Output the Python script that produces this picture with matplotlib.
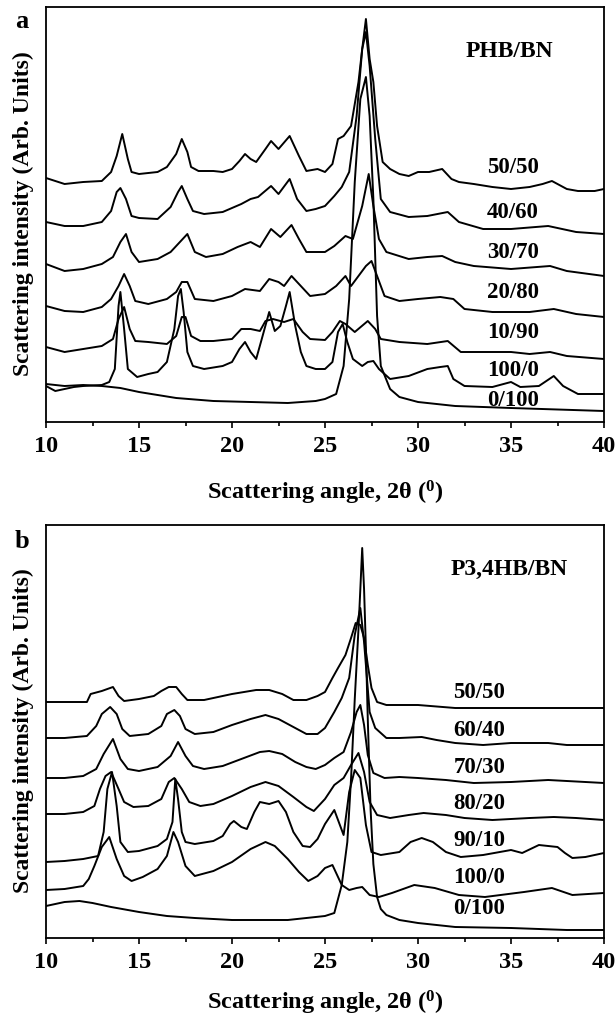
import matplotlib
matplotlib.use('Agg')
import matplotlib.pyplot as plt
from matplotlib.ticker import MultipleLocator

plt.rcParams['font.family'] = ['Liberation Serif', 'DejaVu Serif']
plt.rcParams['font.weight'] = 'bold'
plt.rcParams['mathtext.fontset'] = 'custom'
plt.rcParams['mathtext.rm'] = 'Liberation Serif:bold'
plt.rcParams['mathtext.it'] = 'Liberation Serif:bold'
plt.rcParams['mathtext.bf'] = 'Liberation Serif:bold'

# ---- panel a : PHB/BN, offset patterns (2theta, intensity arb. units) ----
a_50_50 = [(10, 244), (11, 238), (12, 240), (13, 241), (13.5, 250), (13.8, 266), (14.1, 288), (14.4, 263),
           (14.6, 250), (15, 248), (16, 250), (16.5, 255), (17, 268), (17.3, 283), (17.6, 270), (17.8, 255),
           (18.2, 251), (19, 251), (19.5, 250), (20, 253), (20.4, 261), (20.7, 268), (21, 263), (21.3, 260),
           (21.8, 273), (22.1, 281), (22.5, 273), (23.1, 286), (23.6, 266), (24, 251), (24.6, 253), (25, 250),
           (25.4, 258), (25.7, 283), (26, 286), (26.4, 296), (26.8, 340), (27, 373), (27.2, 403), (27.4, 363),
           (27.6, 340), (27.8, 296), (28.1, 260), (28.5, 253), (29, 248), (29.5, 246), (30, 250), (30.6, 250),
           (31.3, 253), (31.8, 243), (32.2, 240), (33, 238), (34, 235), (35, 233), (36, 235), (36.7, 238),
           (37.2, 241), (38, 233), (38.6, 231), (39.5, 231), (40, 233)]
a_40_60 = [(10, 200), (11, 196), (12, 196), (13, 200), (13.5, 211), (13.8, 230), (14.0, 234), (14.3, 223),
           (14.6, 206), (15, 204), (16, 203), (16.7, 215), (17.1, 230), (17.3, 236), (17.6, 223), (17.9, 211),
           (18.5, 208), (19.5, 210), (20.5, 218), (21, 223), (21.4, 225), (22.1, 236), (22.5, 228), (23.1, 243),
           (23.5, 223), (24, 211), (24.5, 213), (25, 216), (25.5, 226), (25.9, 235), (26.3, 250), (26.7, 306),
           (27.0, 373), (27.2, 390), (27.4, 356), (27.7, 283), (28.0, 223), (28.5, 210), (29.5, 205),
           (30.5, 206), (31.6, 210), (32.2, 200), (33.5, 193), (35, 193), (37, 196), (38.5, 190), (40, 188)]
a_30_70 = [(10, 158), (11, 151), (12, 153), (13, 158), (13.6, 165), (14.0, 180), (14.3, 188), (14.6, 170),
           (15, 160), (16, 163), (16.7, 170), (17.2, 180), (17.6, 188), (18.0, 170), (18.6, 165), (19.5, 168),
           (20.3, 175), (21, 180), (21.5, 175), (22.1, 193), (22.6, 185), (23.2, 197), (23.6, 183), (24, 170),
           (25, 170), (25.5, 176), (26.1, 186), (26.5, 183), (27.0, 216), (27.35, 248), (27.6, 216),
           (27.9, 183), (28.3, 170), (29.5, 163), (30.5, 165), (31.3, 166), (32, 160), (33, 156), (35, 153),
           (37.1, 156), (38, 151), (40, 146)]
a_20_80 = [(10, 116), (11, 111), (12, 110), (13, 115), (13.5, 123), (13.9, 136), (14.2, 148), (14.5, 136),
           (14.8, 121), (15.5, 118), (16.5, 123), (17.0, 130), (17.3, 140), (17.6, 140), (18.0, 123), (19, 121),
           (20, 126), (20.7, 133), (21.5, 131), (22, 143), (22.5, 140), (22.8, 136), (23.2, 146), (23.7, 136),
           (24.2, 126), (25, 128), (25.6, 136), (26.1, 146), (26.4, 136), (26.8, 146), (27.2, 156), (27.5, 161),
           (27.8, 146), (28.2, 126), (29, 121), (30, 123), (31.2, 125), (31.9, 123), (32.5, 113), (34, 110),
           (36, 110), (37.3, 113), (38.5, 108), (40, 105)]
a_10_90 = [(10, 75), (11, 70), (12, 73), (13, 76), (13.6, 83), (13.9, 103), (14.2, 115), (14.5, 93),
           (14.8, 81), (15.5, 80), (16.5, 78), (17.0, 86), (17.3, 105), (17.5, 105), (17.8, 86), (18.3, 81),
           (19, 81), (20, 83), (20.5, 93), (21, 93), (21.5, 91), (21.8, 101), (22.2, 103), (22.8, 100),
           (23.3, 103), (23.8, 90), (24.2, 83), (25, 82), (25.4, 90), (25.8, 101), (26.1, 98), (26.6, 90),
           (27.3, 101), (27.7, 93), (28, 83), (29, 80), (30.5, 78), (31.6, 81), (32.3, 70), (33.5, 70),
           (35, 70), (36, 68), (37.1, 70), (38, 66), (40, 63)]
a_100_0 = [(10, 36), (10.5, 31), (11.5, 35), (12, 36), (13, 37), (13.4, 40), (13.7, 53), (13.9, 116),
           (14.0, 130), (14.2, 93), (14.4, 53), (14.9, 45), (15.5, 48), (16, 50), (16.5, 60), (16.9, 93),
           (17.1, 126), (17.25, 133), (17.4, 110), (17.6, 70), (17.9, 56), (18.5, 53), (19.5, 56), (20, 60),
           (20.4, 73), (20.7, 80), (21.0, 70), (21.3, 63), (21.6, 83), (22.0, 110), (22.3, 91), (22.6, 96),
           (22.9, 116), (23.1, 130), (23.4, 96), (23.7, 70), (24, 56), (24.5, 53), (25, 53), (25.4, 60),
           (25.7, 90), (25.95, 98), (26.2, 80), (26.5, 63), (27.0, 56), (27.3, 60), (27.6, 61), (27.9, 53),
           (28.5, 43), (29.5, 46), (30.5, 53), (31.2, 55), (31.6, 56), (31.9, 43), (32.5, 36), (34, 35),
           (35, 40), (35.5, 35), (36.5, 36), (37.3, 46), (37.8, 36), (38.6, 28), (40, 28)]
a_0_100 = [(10, 38), (11, 36), (12, 37), (13, 36), (14, 34), (15, 30), (17, 24), (19, 21), (21, 20), (23, 19),
           (24.5, 21), (25, 23), (25.6, 28), (26.0, 56), (26.3, 123), (26.6, 240), (26.9, 323), (27.2, 345),
           (27.4, 306), (27.6, 223), (27.8, 106), (28.0, 56), (28.5, 33), (29, 25), (30, 20), (32, 16),
           (35, 14), (40, 11)]

a_curves = [a_50_50, a_40_60, a_30_70, a_20_80, a_10_90, a_100_0, a_0_100]
a_labels = ['50/50', '40/60', '30/70', '20/80', '10/90', '100/0', '0/100']
a_label_y = [256, 211, 171, 130, 91, 53, 23]

# ---- panel b : P3,4HB/BN ----
b_50_50 = [(10, 236), (12.2, 236), (12.4, 244), (13, 247), (13.6, 251), (13.9, 242), (14.2, 237), (15, 239),
           (15.8, 242), (16.2, 247), (16.6, 251), (17.0, 251), (17.3, 244), (17.6, 238), (18.5, 238),
           (20, 244), (21.3, 248), (22, 248), (22.7, 244), (23.3, 238), (24, 238), (24.6, 242), (25, 246),
           (25.4, 260), (25.7, 270), (26.1, 283), (26.4, 300), (26.65, 315), (26.9, 313), (27.1, 300),
           (27.3, 273), (27.5, 250), (27.8, 236), (28.3, 233), (30, 233), (32, 230), (35, 230), (40, 230)]
b_60_40 = [(10, 200), (11, 200), (12.2, 202), (12.7, 212), (13.0, 224), (13.45, 231), (13.8, 224), (14.1, 209),
           (14.5, 202), (15.5, 204), (16.2, 212), (16.5, 224), (16.9, 228), (17.2, 222), (17.5, 209),
           (18, 204), (19, 206), (20, 213), (21, 219), (21.8, 223), (22.5, 219), (23.2, 212), (24, 204),
           (24.6, 204), (25, 210), (25.5, 226), (25.9, 240), (26.3, 260), (26.6, 303), (26.9, 330), (27.1, 296),
           (27.4, 226), (27.7, 210), (28.3, 200), (29, 200), (30.2, 201), (31, 198), (32, 195), (33.5, 193),
           (35, 195), (37, 195), (38, 193), (40, 193)]
b_70_30 = [(10, 160), (11, 160), (12, 162), (12.7, 169), (13.1, 184), (13.6, 199), (14.0, 179), (14.4, 169),
           (15, 167), (16, 171), (16.7, 182), (17.1, 196), (17.5, 182), (17.9, 172), (18.5, 169), (19.5, 172),
           (20.5, 179), (21.5, 186), (22, 187), (22.7, 184), (23.4, 176), (24, 171), (24.5, 169), (25, 173),
           (25.5, 180), (26.0, 186), (26.4, 206), (26.7, 226), (26.9, 233), (27.1, 213), (27.3, 183),
           (27.6, 165), (28.2, 160), (29, 161), (30, 160), (31.5, 158), (33, 155), (35, 156), (37, 158),
           (40, 155)]
b_80_20 = [(10, 124), (11, 124), (12, 126), (12.6, 132), (12.9, 149), (13.2, 162), (13.5, 166), (13.9, 149),
           (14.2, 136), (14.7, 131), (15.5, 132), (16.2, 139), (16.6, 156), (16.9, 160), (17.3, 149),
           (17.7, 136), (18.3, 132), (19, 134), (20, 142), (21, 151), (21.8, 156), (22.5, 152), (23.3, 141),
           (24.0, 131), (24.4, 127), (25, 139), (25.5, 153), (26.0, 160), (26.4, 173), (26.8, 185),
           (27.1, 166), (27.4, 136), (27.8, 123), (28.5, 120), (29.5, 123), (30.3, 125), (31.5, 123),
           (32.5, 120), (34, 118), (36, 120), (37.3, 121), (38.5, 120), (40, 118)]
b_90_10 = [(10, 76), (11, 77), (12, 79), (12.8, 82), (13.1, 106), (13.3, 149), (13.55, 166), (13.8, 132),
           (14.0, 96), (14.4, 86), (15, 87), (16, 92), (16.5, 99), (16.8, 116), (16.95, 159), (17.1, 139),
           (17.3, 106), (17.5, 96), (18, 94), (19, 97), (19.5, 102), (19.9, 114), (20.1, 117), (20.5, 111),
           (20.8, 109), (21.2, 126), (21.5, 136), (22.0, 134), (22.5, 137), (22.9, 126), (23.3, 106),
           (23.8, 92), (24.2, 91), (24.6, 99), (25, 114), (25.5, 128), (25.8, 113), (26.0, 103), (26.3, 146),
           (26.6, 168), (26.9, 160), (27.2, 113), (27.5, 86), (28, 83), (29, 86), (29.6, 96), (30.2, 100),
           (30.8, 96), (31.5, 86), (32.3, 81), (33.5, 83), (35, 88), (35.6, 85), (36.5, 93), (37.5, 91),
           (37.9, 85), (38.3, 80), (39, 81), (40, 85)]
b_100_0 = [(10, 48), (11, 49), (12, 52), (12.3, 59), (12.6, 72), (13.0, 91), (13.4, 101), (13.8, 79),
           (14.2, 62), (14.6, 57), (15.2, 61), (16, 69), (16.5, 82), (16.85, 106), (17.1, 96), (17.5, 72),
           (18, 62), (19, 67), (20, 76), (21, 89), (21.8, 96), (22.3, 92), (23.0, 79), (23.6, 66), (24.1, 57),
           (24.6, 62), (25, 70), (25.4, 73), (25.9, 53), (26.3, 48), (26.7, 50), (27.0, 51), (27.4, 43),
           (27.9, 41), (28.6, 45), (29.8, 53), (30.9, 50), (32.2, 43), (33.6, 41), (35.7, 46), (37.2, 50),
           (38.3, 43), (40, 45)]
b_0_100 = [(10, 32), (11, 36), (11.8, 37), (12.5, 35), (13.5, 31), (15, 26), (16.5, 22), (18, 20), (20, 18),
           (21.5, 18), (23, 18), (24.5, 21), (25, 22), (25.5, 25), (25.9, 53), (26.2, 96), (26.4, 159),
           (26.6, 239), (26.8, 309), (26.9, 349), (27.0, 390), (27.1, 349), (27.2, 289), (27.3, 219),
           (27.45, 129), (27.6, 74), (27.8, 41), (28.0, 29), (28.3, 23), (29, 18), (30, 15), (32, 11),
           (35, 10), (38, 8), (40, 8)]

b_curves = [b_50_50, b_60_40, b_70_30, b_80_20, b_90_10, b_100_0, b_0_100]
b_labels = ['50/50', '60/40', '70/30', '80/20', '90/10', '100/0', '0/100']
b_label_y = [246, 208, 171, 135, 98, 61, 30]

W, H = 616, 1020
fig = plt.figure(figsize=(W / 100, H / 100), dpi=100)
ax_a = fig.add_axes([46 / W, 1 - 423 / H, 558 / W, 415 / H])
ax_b = fig.add_axes([46 / W, 1 - 939 / H, 558 / W, 413 / H])


def draw_panel(ax, curves, labels, label_y, label_x, title, ymax):
    for c in curves:
        xs = [p[0] for p in c]
        ys = [p[1] for p in c]
        ax.plot(xs, ys, color='black', lw=1.4, solid_joinstyle='round')
    for lab, ly in zip(labels, label_y):
        ax.text(label_x, ly, lab, fontsize=16.5, fontweight='bold', ha='center', va='center')
    ax.text(34.9, ymax - 43, title, fontsize=17, fontweight='bold', ha='center', va='center')
    ax.set_xlim(10, 40)
    ax.set_ylim(0, ymax)
    ax.set_yticks([])
    ax.xaxis.set_major_locator(MultipleLocator(5))
    ax.xaxis.set_minor_locator(MultipleLocator(2.5))
    ax.tick_params(axis='x', which='major', direction='out', length=4.5, width=1.2,
                   labelsize=17.5, pad=5, top=False)
    ax.tick_params(axis='x', which='minor', direction='out', length=3, width=1.2, top=False)
    for s in ax.spines.values():
        s.set_linewidth(1.3)
    for t in ax.get_xticklabels():
        t.set_fontweight('bold')


draw_panel(ax_a, a_curves, a_labels, a_label_y, 35.1, 'PHB/BN', 415)
draw_panel(ax_b, b_curves, b_labels, b_label_y, 33.3, 'P3,4HB/BN', 413)

xl = 'Scattering angle, 2\u03b8 ($^{0}$)'
yl = 'Scattering intensity (Arb. Units)'
fig.text(325 / W, 1 - 493 / H, xl, fontsize=17.5, fontweight='bold', ha='center', va='center')
fig.text(325 / W, 1 - 1003 / H, xl, fontsize=17.5, fontweight='bold', ha='center', va='center')
fig.text(23 / W, 1 - 214 / H, yl, fontsize=17, fontweight='bold', rotation=90, ha='center', va='center')
fig.text(23 / W, 1 - 731 / H, yl, fontsize=17, fontweight='bold', rotation=90, ha='center', va='center')
fig.text(22 / W, 1 - 22 / H, 'a', fontsize=19, fontweight='bold', ha='center', va='center')
fig.text(22 / W, 1 - 541 / H, 'b', fontsize=19, fontweight='bold', ha='center', va='center')

fig.savefig('out.png', dpi=100)
